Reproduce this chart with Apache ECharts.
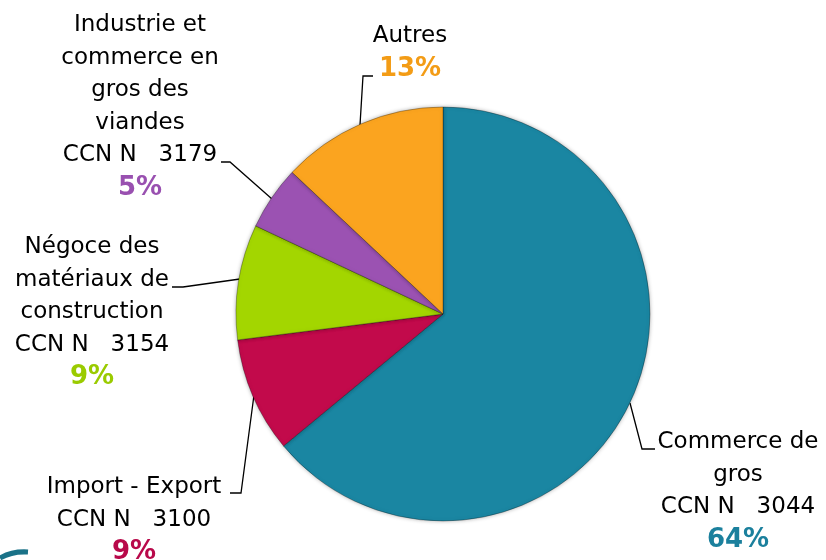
<!DOCTYPE html>
<html>
<head>
<meta charset="utf-8">
<script src="https://cdn.jsdelivr.net/npm/echarts@6/dist/echarts.min.js"></script>
<style>
  html, body { margin: 0; padding: 0; background: #fff; }
  #chart { width: 826px; height: 560px; }
</style>
</head>
<body>
<div id="chart"></div>
<script>
// slices, clockwise from 12 o'clock
const names = [
  'Commerce de\ngros\nCCN N   3044',
  'Import - Export\nCCN N   3100',
  'Négoce des\nmatériaux de\nconstruction\nCCN N   3154',
  'Industrie et\ncommerce en\ngros des\nviandes\nCCN N   3179',
  'Autres'
];
const values = [64, 9, 9, 5, 13];
const colors = ['#1a86a2', '#c20a4b', '#a3d600', '#9b52b2', '#fba41f'];
const pctColors = ['#1b809d', '#b8094a', '#9acb00', '#9950b0', '#f39c16'];

// label block (center x, top y) and leader lines
const labelPos = [[738, 426], [134, 471], [92, 231], [140, 9], [410, 20]];
const leaders = [
  [[630, 403], [642, 449], [655, 449]],
  [[254, 395], [241, 493], [230, 493]],
  [[240, 279], [183, 287], [172, 287]],
  [[272, 199], [230, 162], [221, 162]],
  [[360, 125], [363, 76], [373, 76]]
];

const chart = echarts.init(document.getElementById('chart'));

const textFont = 'DejaVu Sans';

const data = values.map((v, i) => ({
  name: names[i],
  value: v,
  itemStyle: { color: colors[i] },
  label: {
    formatter: () => names[i].split('\n').map(l => '{n|' + l + '}').join('\n') + '\n{p|' + v + '%}',
    rich: {
      n: { fontFamily: textFont, fontSize: 23, color: '#000', lineHeight: 32.5 },
      p: { fontFamily: textFont, fontSize: 26, fontWeight: 'bold', color: pctColors[i], lineHeight: 32.5 }
    }
  }
}));

chart.setOption({
  animation: false,
  graphic: [{
    type: 'bezierCurve',
    shape: { x1: 0, y1: 558, cpx1: 12, cpy1: 551, x2: 28, y2: 552 },
    style: { stroke: '#1a7288', lineWidth: 5, fill: null }
  }],
  series: [{
    type: 'pie',
    center: [443, 314],
    radius: [0, 207],
    startAngle: 90,
    clockwise: true,
    avoidLabelOverlap: false,
    silent: true,
    itemStyle: {
      borderColor: 'rgba(0,0,0,0.3)',
      borderWidth: 1,
      shadowBlur: 4,
      shadowColor: 'rgba(0,0,0,0.3)'
    },
    label: { position: 'outer', align: 'center' },
    labelLine: { show: true, lineStyle: { color: '#000', width: 1.3 } },
    labelLayout: params => ({
      x: labelPos[params.dataIndex][0],
      y: labelPos[params.dataIndex][1],
      align: 'center',
      verticalAlign: 'top',
      labelLinePoints: leaders[params.dataIndex]
    }),
    emphasis: { disabled: true },
    data: data
  }]
});
</script>
</body>
</html>
